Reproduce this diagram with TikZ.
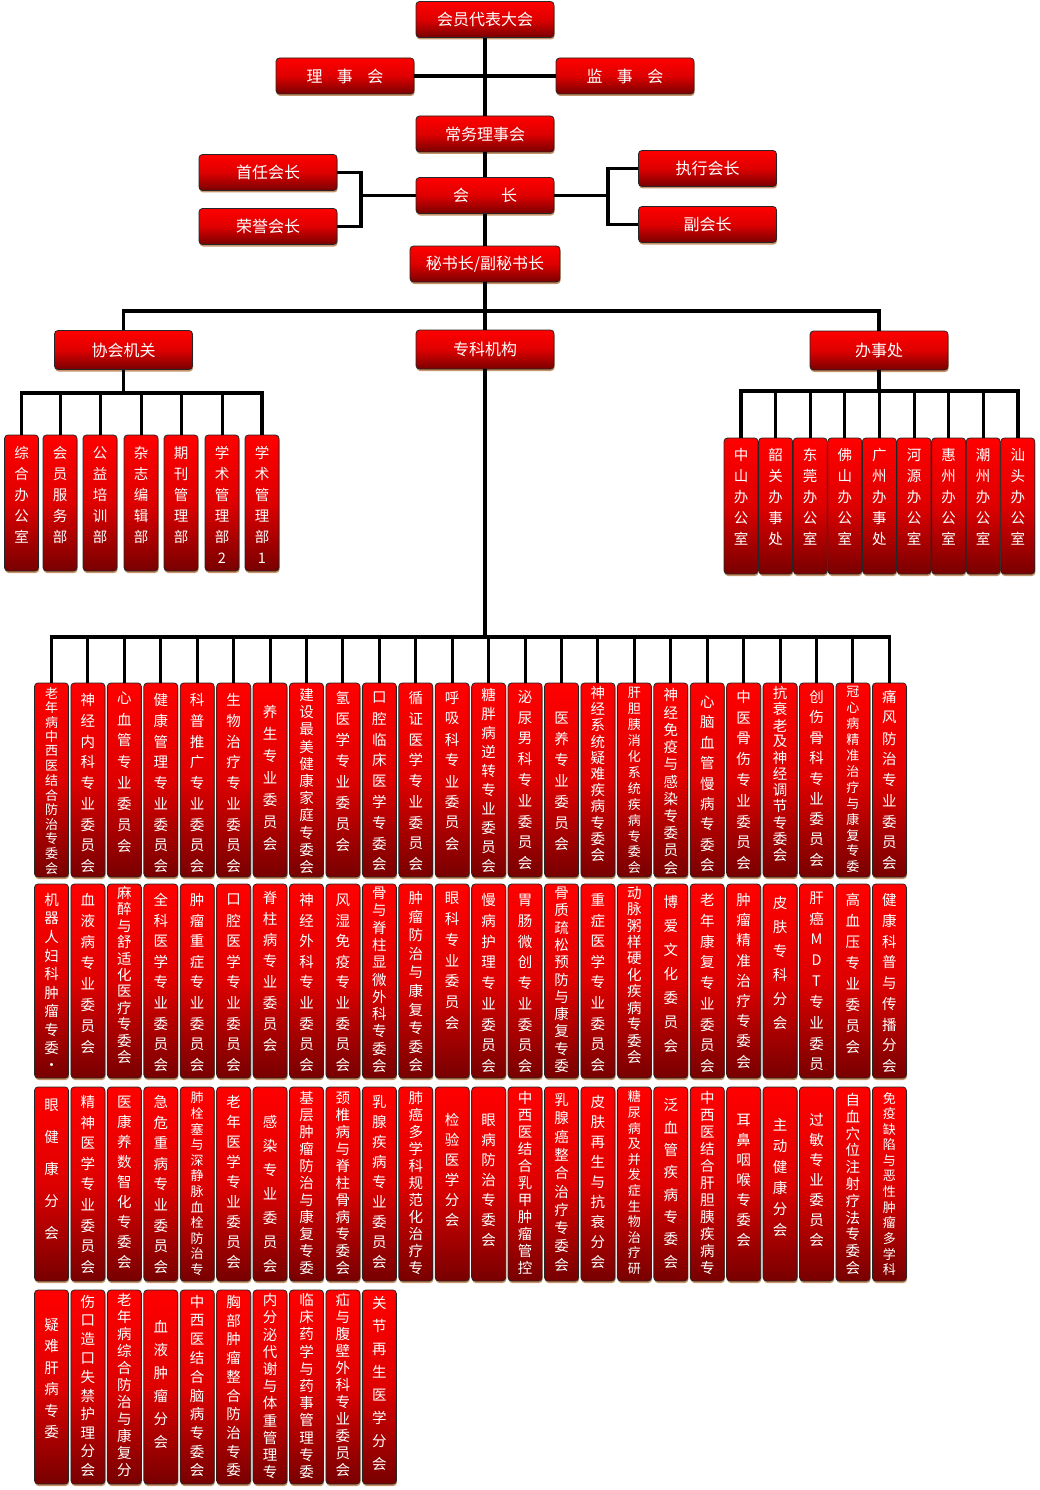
\documentclass[tikz,border=0pt]{standalone}
\usepackage{fontspec}
\setmainfont{Noto Sans CJK SC}
\usetikzlibrary{shadows}
\makeatletter
\newcommand\vchars[4]{% #1 height, #2 offset of first char centre, #3 pitch, #4 text
  \vbox to #1pt{\offinterlineskip
    \ifdim #3pt<16pt \fontsize{13}{13}\selectfont\fi
    \vskip\dimexpr #2pt - #3pt/2\relax
    \@tfor\vch:=#4\do{\vbox to #3pt{\vss\hbox to 34pt{\hss\vch\hss}\vss}}%
    \vss}}
\makeatother
\definecolor{boxtop}{RGB}{255,0,0}
\definecolor{boxmid}{RGB}{222,0,0}
\definecolor{boxbot}{RGB}{120,0,0}
\definecolor{shadowtan}{RGB}{190,130,80}
\tikzset{
  redbox/.style={draw=black!85, line width=0.8pt, rounded corners=3.5pt,
    top color=boxtop, bottom color=boxbot, middle color=boxmid,
    text=white, inner sep=0pt,
    drop shadow={shadow xshift=0.6pt, shadow yshift=-2pt, fill=shadowtan, opacity=0.85}},
  topbox/.style={redbox, minimum width=138pt, minimum height=36pt, font=\fontsize{16}{16}\selectfont},
  cellbox/.style={redbox, minimum width=34pt, font=\fontsize{14.5}{14.5}\selectfont},
  conn/.style={draw=black, line width=3.5pt, line join=miter},
  thinconn/.style={draw=black, line width=3pt, line join=miter}
}
\newcommand\gcell[6]{% name, col, top, offset, pitch, text
  \node[cellbox] (#1) at ({51.5+36.43*#2},{#3+97}) {\vchars{194}{#4}{#5}{#6}};}
\newcommand\scell[6]{% name, x, top, offset, pitch, text
  \node[cellbox] (#1) at (#2,{#3+68}) {\vchars{136}{#4}{#5}{#6}};}
\begin{document}
\begin{tikzpicture}[x=1pt,y=-1pt]
\fill[white] (0,0) rectangle (1040,1490);
\useasboundingbox (0,0) rectangle (1040,1490);

% ---------- top part ----------
\node[topbox] (hydb) at (485,19.5) {会员代表大会};
\node[topbox] (lsh) at (345,76) {理\hspace{0.9em}事\hspace{0.9em}会};
\node[topbox] (jsh) at (625,76) {监\hspace{0.9em}事\hspace{0.9em}会};
\node[topbox] (cwlsh) at (485,134) {常务理事会};
\node[topbox] (hz) at (485,195.5) {会\hspace{2em}长};
\node[topbox] (srhz) at (268,172.5) {首任会长};
\node[topbox] (ryhz) at (268,226.5) {荣誉会长};
\node[topbox] (zxhz) at (707.5,168.5) {执行会长};
\node[topbox] (fhz) at (707.5,224.5) {副会长};
\node[topbox, minimum width=150pt] (msz) at (485,264) {秘书长/副秘书长};
\node[topbox, minimum height=39pt] (xhjg) at (123.5,350) {协会机关};
\node[topbox, minimum height=39pt] (zkjg) at (485,349.5) {专科机构};
\node[topbox, minimum height=39pt] (bsc) at (879,350.5) {办事处};

\coordinate (lbr) at (361,195.5);
\coordinate (rbr) at (608,195.5);
\coordinate (bar2) at (485,311);
\coordinate (lbar) at (123.5,393);
\coordinate (rbar) at (879,391);
\coordinate (gbar) at (485,637);

\draw[conn] (hydb.south) -- (cwlsh.north);
\draw[conn] (lsh.east) -- (jsh.west);
\draw[conn] (cwlsh.south) -- (hz.north);
\draw[conn] (hz.south) -- (msz.north);
\draw[conn] (msz.south) -- (zkjg.north);
\draw[conn] (zkjg.south) -- (gbar);
\draw[conn] (srhz.east) -| (lbr) |- (ryhz.east);
\draw[conn] (hz.west) -- (lbr);
\draw[conn] (zxhz.west) -| (rbr) |- (fhz.west);
\draw[conn] (hz.east) -- (rbr);
\draw[conn] (xhjg.north) |- (bar2) -| (bsc.north);

% ---------- 协会机关 ----------
\scell{l1}{21.5}{435}{18}{21}{综合办公室}
\scell{l2}{60}{435}{18}{21}{会员服务部}
\scell{l3}{100}{435}{18}{21}{公益培训部}
\scell{l4}{141}{435}{18}{21}{杂志编辑部}
\scell{l5}{181}{435}{18}{21}{期刊管理部}
\scell{l6}{222}{435}{18}{21}{学术管理部2}
\scell{l7}{262}{435}{18}{21}{学术管理部1}
\draw[conn] (xhjg.south) -- (lbar);
\draw[conn] (l1.north) |- (lbar) -| (l7.north);
\foreach \k in {2,...,6} {\draw[thinconn] (lbar -| l\k.north) -- (l\k.north);}

% ---------- 办事处 ----------
\scell{o1}{741}{438}{17}{21}{中山办公室}
\scell{o2}{775.6}{438}{17}{21}{韶关办事处}
\scell{o3}{810.2}{438}{17}{21}{东莞办公室}
\scell{o4}{844.8}{438}{17}{21}{佛山办公室}
\scell{o5}{879.4}{438}{17}{21}{广州办事处}
\scell{o6}{914}{438}{17}{21}{河源办公室}
\scell{o7}{948.6}{438}{17}{21}{惠州办公室}
\scell{o8}{983.2}{438}{17}{21}{潮州办公室}
\scell{o9}{1017.8}{438}{17}{21}{汕头办公室}
\draw[conn] (bsc.south) -- (rbar);
\draw[conn] (o1.north) |- (rbar) -| (o9.north);
\foreach \k in {2,...,8} {\draw[thinconn] (rbar -| o\k.north) -- (o\k.north);}

% ---------- 专科机构 row 1 ----------
\gcell{a0}{0}{683}{10}{14.6}{老年病中西医结合防治专委会}
\gcell{a1}{1}{683}{17}{20.8}{神经内科专业委员会}
\gcell{a2}{2}{683}{15}{21.2}{心血管专业委员会}
\gcell{a3}{3}{683}{17}{20.8}{健康管理专业委员会}
\gcell{a4}{4}{683}{17}{20.8}{科普推广专业委员会}
\gcell{a5}{5}{683}{17}{20.8}{生物治疗专业委员会}
\gcell{a6}{6}{683}{29}{22}{养生专业委员会}
\gcell{a7}{7}{683}{12}{17.2}{建设最美健康家庭专委会}
\gcell{a8}{8}{683}{15}{21}{氢医学专业委员会}
\gcell{a9}{9}{683}{15}{20.8}{口腔临床医学专委会}
\gcell{a10}{10}{683}{15}{20.8}{循证医学专业委员会}
\gcell{a11}{11}{683}{15}{20.8}{呼吸科专业委员会}
\gcell{a12}{12}{683}{12}{19}{糖胖病逆转专业委员会}
\gcell{a13}{13}{683}{14}{20.8}{泌尿男科专业委员会}
\gcell{a14}{14}{683}{35}{21}{医养专业委员会}
\gcell{a15}{15}{683}{10}{16.2}{神经系统疑难疾病专委会}
\gcell{a16}{16}{683}{10}{15.9}{肝胆胰消化系统疾病专委会}
\gcell{a17}{17}{683}{12}{17.3}{神经免疫与感染专委员会}
\gcell{a18}{18}{683}{19}{20.4}{心脑血管慢病专委会}
\gcell{a19}{19}{683}{14}{20.8}{中医骨伤专业委员会}
\gcell{a20}{20}{683}{10}{16.2}{抗衰老及神经调节专委会}
\gcell{a21}{21}{683}{14}{20.4}{创伤骨科专业委员会}
\gcell{a22}{22}{683}{9}{15.9}{冠心病精准治疗与康复专委}
\gcell{a23}{23}{683}{14}{20.8}{痛风防治专业委员会}

\draw[conn] (a0.north) |- (gbar) -| (a23.north);
\foreach \k in {1,...,22} {\draw[thinconn] (gbar -| a\k.north) -- (a\k.north);}

% ---------- row 2 ----------
\gcell{b0}{0}{884}{16}{18.5}{机器人妇科肿瘤专委·}
\gcell{b1}{1}{884}{16}{21}{血液病专业委员会}
\gcell{b2}{2}{884}{9}{16.4}{麻醉与舒适化医疗专委会}
\gcell{b3}{3}{884}{16}{20.6}{全科医学专业委员会}
\gcell{b4}{4}{884}{16}{20.6}{肿瘤重症专业委员会}
\gcell{b5}{5}{884}{16}{20.6}{口腔医学专业委员会}
\gcell{b6}{6}{884}{14}{21}{脊柱病专业委员会}
\gcell{b7}{7}{884}{16}{20.6}{神经外科专业委员会}
\gcell{b8}{8}{884}{16}{20.6}{风湿免疫专业委员会}
\gcell{b9}{9}{884}{9}{17.3}{骨与脊柱显微外科专委会}
\gcell{b10}{10}{884}{14}{18.6}{肿瘤防治与康复专委会}
\gcell{b11}{11}{884}{14}{20.8}{眼科专业委员会}
\gcell{b12}{12}{884}{16}{20.8}{慢病护理专业委员会}
\gcell{b13}{13}{884}{16}{20.8}{胃肠微创专业委员会}
\gcell{b14}{14}{884}{9}{17.3}{骨质疏松预防与康复专委}
\gcell{b15}{15}{884}{16}{20.6}{重症医学专业委员会}
\gcell{b16}{16}{884}{9}{16.4}{动脉粥样硬化疾病专委会}
\gcell{b17}{17}{884}{18}{24}{博爱文化委员会}
\gcell{b18}{18}{884}{16}{20.8}{老年康复专业委员会}
\gcell{b19}{19}{884}{16}{20.2}{肿瘤精准治疗专委会}
\gcell{b20}{20}{884}{19}{24}{皮肤专科分会}
\gcell{b21}{21}{884}{14}{20.8}{肝癌MDT专业委员}
\gcell{b22}{22}{884}{16}{21}{高血压专业委员会}
\gcell{b23}{23}{884}{16}{20.8}{健康科普与传播分会}

% ---------- row 3 ----------
\gcell{c0}{0}{1087}{18}{32}{眼健康分会}
\gcell{c1}{1}{1087}{15}{20.6}{精神医学专业委员会}
\gcell{c2}{2}{1087}{15}{20}{医康养数智化专委会}
\gcell{c3}{3}{1087}{15}{20.6}{急危重病专业委员会}
\gcell{c4}{4}{1087}{11}{15.6}{肺栓塞与深静脉血栓防治专}
\gcell{c5}{5}{1087}{15}{20}{老年医学专业委员会}
\gcell{c6}{6}{1087}{35}{24}{感染专业委员会}
\gcell{c7}{7}{1087}{11}{17}{基层肿瘤防治与康复专委}
\gcell{c8}{8}{1087}{11}{17}{颈椎病与脊柱骨病专委会}
\gcell{c9}{9}{1087}{15}{20}{乳腺疾病专业委员会}
\gcell{c10}{10}{1087}{11}{17}{肺癌多学科规范化治疗专}
\gcell{c11}{11}{1087}{33}{20}{检验医学分会}
\gcell{c12}{12}{1087}{33}{20}{眼病防治专委会}
\gcell{c13}{13}{1087}{11}{17}{中西医结合乳甲肿瘤管控}
\gcell{c14}{14}{1087}{13}{18.3}{乳腺癌整合治疗专委会}
\gcell{c15}{15}{1087}{15}{20}{皮肤再生与抗衰分会}
\gcell{c16}{16}{1087}{10}{15.6}{糖尿病及并发症生物治疗研}
\gcell{c17}{17}{1087}{18}{22.4}{泛血管疾病专委会}
\gcell{c18}{18}{1087}{11}{17}{中西医结合肝胆胰疾病专}
\gcell{c19}{19}{1087}{33}{20}{耳鼻咽喉专委会}
\gcell{c20}{20}{1087}{38}{21}{主动健康分会}
\gcell{c21}{21}{1087}{33}{20}{过敏专业委员会}
\gcell{c22}{22}{1087}{13}{16.8}{自血穴位注射疗法专委会}
\gcell{c23}{23}{1087}{11}{15.6}{免疫缺陷与恶性肿瘤多学科}

% ---------- row 4 ----------
\gcell{d0}{0}{1290}{35}{21.4}{疑难肝病专委}
\gcell{d1}{1}{1290}{12}{18.7}{伤口造口失禁护理分会}
\gcell{d2}{2}{1290}{10}{17}{老年病综合防治与康复分}
\gcell{d3}{3}{1290}{37}{23}{血液肿瘤分会}
\gcell{d4}{4}{1290}{12}{18.7}{中西医结合脑病专委会}
\gcell{d5}{5}{1290}{12}{18.7}{胸部肿瘤整合防治专委}
\gcell{d6}{6}{1290}{10}{17.2}{内分泌代谢与体重管理专}
\gcell{d7}{7}{1290}{10}{17.2}{临床药学与药事管理专委}
\gcell{d8}{8}{1290}{10}{17}{疝与腹壁外科专业委员会}
\gcell{d9}{9}{1290}{13}{23}{关节再生医学分会}
\end{tikzpicture}
\end{document}
